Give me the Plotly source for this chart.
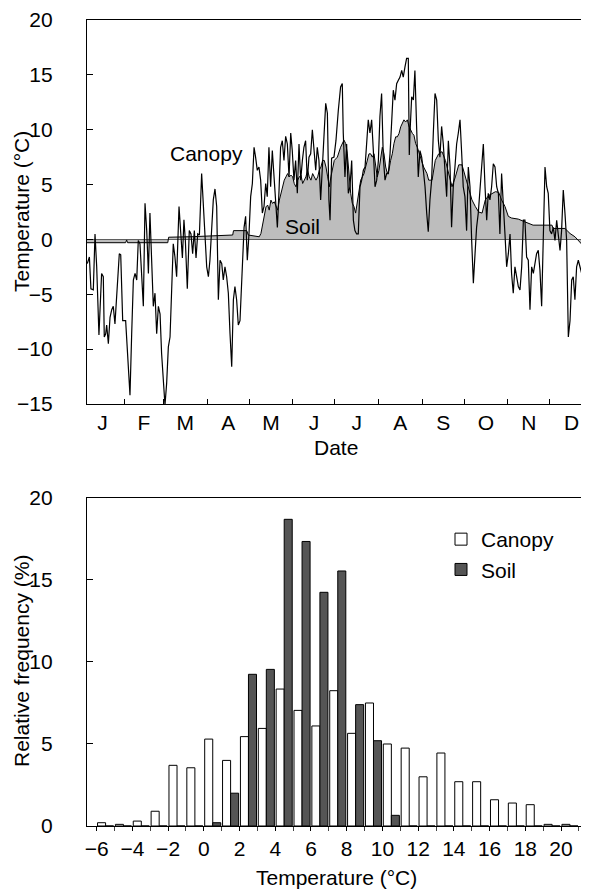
import plotly.graph_objects as go

# ---------------- Top panel: daily temperatures ----------------
# [day of year, temperature °C]
canopy_points = [
    [4.7, -2.2], [6.2, -1.6], [7.3, -4.5], [9.0, -4.6], [10.2, 0.5], [11.4, -2.5], [13.0, -8.7],
    [14.9, -3.1], [16.1, -3.4], [16.8, -8.9], [17.8, -8.6], [18.5, -7.8], [19.7, -9.5], [20.9, -7.1],
    [22.1, -6.4], [23.2, -6.1], [24.4, -7.7], [25.6, -5.5], [27.5, -1.3], [28.5, -1.4], [29.9, -7.4],
    [32.0, -7.4], [33.9, -11.6], [35.1, -14.2], [36.3, -8.6], [37.5, -3.7], [38.7, -3.1], [39.9, -3.7],
    [41.0, -0.1], [42.2, -0.4], [44.6, -6.1], [45.8, 3.3], [47.0, 0.8], [48.2, -3.1], [49.3, 2.4],
    [50.5, -1.3], [51.7, -6.1], [52.9, -4.9], [54.1, -8.6], [55.3, -6.1], [56.5, -6.8], [57.6, -10.4],
    [58.8, -13.1], [60.0, -15.1], [61.2, -13.1], [62.4, -9.8], [63.6, -8.9], [64.8, -4.9], [65.9, -0.4],
    [67.1, -1.6], [68.3, -3.4], [70.0, 3.0], [71.2, 0.5], [72.4, -1.7], [73.5, 1.8], [74.5, -0.1],
    [75.9, -4.5], [77.3, 0.8], [78.5, 0.5], [79.7, -1.3], [80.9, 0.8], [82.1, -1.7], [83.3, 0.5],
    [84.5, 0.4], [86.1, 6.0], [87.3, 3.0], [88.5, -0.1], [89.7, -2.5], [90.9, -3.4], [92.0, -1.9],
    [94.4, 3.6], [95.6, 4.6], [96.8, 3.0], [98.0, -5.5], [99.2, -1.9], [100.4, -2.2], [101.5, -3.7],
    [102.7, -2.5], [103.9, -3.4], [105.1, -4.9], [106.3, -8.6], [107.5, -11.6], [108.7, -5.5],
    [109.8, -4.3], [111.0, -5.5], [112.2, -7.8], [113.4, -7.4], [115.1, -3.1], [116.3, 1.1],
    [117.4, 2.1], [118.6, -1.9], [119.8, 0.5], [121.0, 3.9], [122.2, 5.1], [123.4, 8.4], [124.5, 7.5],
    [125.7, 6.3], [126.9, 6.6], [128.1, 5.4], [129.3, 2.4], [130.5, 3.0], [131.7, 5.1], [132.8, 3.9],
    [134.0, 8.4], [135.2, 4.8], [136.4, 8.1], [137.6, 6.0], [138.8, 3.3], [140.0, 1.1], [141.2, 4.5],
    [142.3, 8.4], [143.5, 9.0], [144.7, 7.2], [145.9, 9.4], [147.1, 8.7], [148.3, 5.7], [149.5, 9.7],
    [150.6, 8.1], [151.8, 5.4], [153.0, 7.2], [154.2, 4.2], [155.4, 8.7], [156.6, 5.4], [157.8, 7.2],
    [158.9, 8.4], [160.1, 9.0], [161.3, 5.4], [162.5, 7.5], [163.7, 7.8], [164.9, 10.0], [166.1, 8.1],
    [167.3, 6.3], [168.4, 8.4], [169.6, 7.2], [170.8, 3.6], [172.0, 6.6], [173.2, 10.6], [174.4, 12.4],
    [175.6, 11.5], [176.7, 3.6], [177.5, 1.75], [178.6, 7.4], [180.3, 7.5], [181.7, 9.0], [183.4, 11.8],
    [185.0, 13.9], [186.2, 14.2], [186.9, 9.7], [188.1, 5.7], [189.3, 8.7], [190.5, 4.2], [191.7, 4.8],
    [192.9, 7.2], [194.1, 1.75], [195.2, 0.8], [196.4, 0.5], [197.6, 0.5], [198.8, 4.8], [200.0, 5.4],
    [201.2, 6.3], [202.4, 6.6], [203.5, 9.0], [204.7, 10.9], [205.9, 9.7], [207.1, 10.9], [208.3, 8.1],
    [209.5, 4.8], [210.7, 5.4], [211.9, 7.2], [213.0, 11.2], [214.2, 13.3], [215.4, 7.5], [216.6, 5.4],
    [217.8, 6.0], [219.0, 6.0], [220.2, 7.8], [221.3, 10.3], [222.5, 13.6], [223.7, 12.7], [224.9, 14.2],
    [226.1, 14.5], [227.3, 14.8], [228.5, 15.4], [229.6, 14.8], [230.8, 15.7], [232.0, 16.5],
    [233.2, 16.5], [233.9, 7.7], [234.4, 9.7], [235.6, 13.0], [236.8, 12.7], [237.9, 15.4],
    [239.1, 10.3], [240.3, 5.7], [241.5, 8.1], [242.7, 7.5], [243.9, 6.3], [245.1, 4.8], [246.3, 2.4],
    [247.4, 0.7], [248.6, 3.6], [249.8, 5.4], [251.0, 9.7], [252.2, 13.3], [253.4, 12.7], [254.6, 9.0],
    [255.7, 7.5], [256.9, 10.3], [258.1, 8.7], [259.3, 6.0], [260.5, 3.9], [261.7, 9.0], [262.9, 6.6],
    [264.0, 1.1], [265.2, 4.8], [266.4, 6.6], [267.6, 8.7], [268.8, 9.7], [270.0, 10.9], [271.2, 7.8],
    [272.3, 4.8], [273.5, 3.9], [274.7, 0.8], [275.9, 6.6], [277.1, 4.8], [278.3, -0.1], [279.5, -4.0],
    [280.7, -1.3], [281.8, 1.1], [283.0, 2.4], [284.2, 4.8], [285.4, 7.2], [286.6, 8.7], [287.8, 4.8],
    [289.0, 1.75], [290.1, 4.2], [291.3, 3.6], [292.5, 4.8], [293.7, 6.9], [294.9, 6.6], [296.1, 4.8],
    [297.3, 4.2], [298.4, 0.5], [299.6, 6.0], [300.8, 3.6], [302.0, 0.5], [303.2, -2.5], [304.4, -1.3],
    [305.6, 0.5], [306.7, -3.1], [307.9, -4.9], [309.1, -2.5], [310.3, -3.4], [311.5, -4.3],
    [312.7, -4.6], [313.9, -2.5], [315.1, 1.75], [316.2, 1.75], [317.4, -1.6], [318.6, -1.9],
    [319.8, -6.4], [321.0, -2.5], [322.2, -3.1], [323.4, -1.9], [324.5, -1.3], [325.7, -1.0],
    [326.9, -2.8], [328.1, -6.1], [329.3, 0.8], [330.5, 6.6], [331.7, 4.8], [332.8, 4.2], [334.0, 0.8],
    [335.2, 0.5], [336.4, 1.1], [337.6, -0.1], [338.8, 1.75], [340.0, 0.5], [341.2, -1.0], [342.3, 0.8],
    [343.5, 4.5], [344.7, 2.4], [345.9, -0.1], [347.1, -8.9], [348.3, -7.4], [349.5, -3.7],
    [350.6, -3.4], [351.8, -5.5], [353.0, -2.5], [354.2, -1.9], [355.4, -2.5], [356.6, -3.1],
    [357.8, -4.6], [358.9, -6.8], [360.1, -9.2], [361.3, -11.6],
]

soil_points = [
    [4.5, -0.3], [32.0, -0.3], [32.7, -0.05], [33.4, -0.3], [62.0, -0.3], [62.6, 0.2], [80.0, 0.25],
    [95.0, 0.35], [108.2, 0.4], [108.8, 0.8], [118.2, 0.8], [119.3, 0.4], [125.3, 0.25], [127.1, 0.24],
    [128.3, 0.54], [129.5, 1.45], [130.7, 2.37], [131.9, 2.97], [133.1, 3.13], [134.2, 2.67],
    [135.4, 3.58], [136.6, 3.28], [137.8, 3.43], [139.0, 2.97], [140.2, 2.67], [141.4, 3.58],
    [142.6, 4.19], [143.7, 4.8], [144.9, 5.4], [146.1, 5.7], [147.3, 6.0], [148.5, 5.7], [149.7, 5.86],
    [150.9, 5.7], [152.0, 5.1], [153.2, 4.8], [154.4, 5.4], [155.6, 5.7], [156.8, 5.86], [158.0, 5.1],
    [159.2, 5.4], [160.3, 5.7], [161.5, 6.3], [162.7, 5.7], [163.9, 5.4], [165.1, 6.0], [166.3, 5.7],
    [167.5, 5.4], [168.7, 5.7], [169.8, 6.3], [171.0, 6.6], [172.2, 7.2], [173.4, 7.2], [174.6, 6.6],
    [175.8, 5.7], [177.0, 4.8], [178.1, 5.7], [179.3, 6.6], [180.5, 7.2], [182.7, 7.5], [185.0, 8.4],
    [187.4, 9.05], [188.6, 8.75], [189.8, 7.8], [191.0, 5.7], [192.2, 4.2], [193.3, 3.3], [194.5, 3.0],
    [195.7, 2.4], [196.9, 3.3], [198.1, 4.2], [199.3, 5.4], [200.5, 5.7], [201.7, 6.0], [202.8, 6.6],
    [204.0, 7.2], [205.2, 7.8], [206.4, 7.8], [207.6, 7.5], [208.8, 7.8], [210.0, 6.9], [211.1, 5.7],
    [212.3, 6.3], [213.5, 7.2], [214.7, 8.4], [215.9, 7.8], [217.1, 6.6], [218.3, 6.0], [219.4, 6.3],
    [220.6, 7.2], [221.8, 7.8], [223.0, 8.75], [224.2, 9.35], [225.4, 9.35], [226.6, 9.66],
    [227.8, 10.27], [228.9, 10.57], [230.1, 10.9], [231.3, 10.7], [232.5, 10.9], [233.7, 10.3],
    [234.9, 9.96], [236.1, 9.66], [237.2, 9.5], [238.4, 8.75], [239.6, 8.4], [241.8, 7.5], [244.1, 6.6],
    [246.5, 6.0], [247.7, 5.4], [250.1, 5.4], [251.3, 6.6], [252.4, 7.2], [254.8, 7.8], [257.2, 8.0],
    [259.6, 7.2], [261.9, 6.0], [264.3, 4.8], [266.7, 5.7], [269.1, 6.8], [271.4, 6.8], [273.8, 5.7],
    [276.2, 4.8], [278.5, 3.6], [280.9, 3.0], [283.3, 2.5], [285.7, 2.4], [288.0, 3.6], [290.4, 4.0],
    [292.8, 4.2], [295.2, 4.35], [297.5, 4.3], [299.6, 3.6], [302.0, 3.0], [304.4, 2.1], [306.7, 1.95],
    [311.5, 1.85], [316.2, 1.6], [319.8, 1.45], [322.0, 1.3], [335.5, 1.3], [336.2, 1.0], [344.7, 1.0],
    [345.9, 0.85], [348.3, 0.54], [351.8, 0.24], [354.2, -0.06], [356.6, -0.43], [358.9, -0.52],
    [361.3, -0.52],
]

month_labels = ["J", "F", "M", "A", "M", "J", "J", "A", "S", "O", "N", "D"]
month_mid_days = [15.5, 45, 74.5, 105, 135.5, 166, 196.5, 227.5, 258, 288.5, 319, 349.5]
month_start_days = [31, 59, 90, 120, 151, 181, 212, 243, 273, 304, 334]

# ---------------- Bottom panel: frequency histogram ----------------
bin_centers = [-5.5, -4.5, -3.5, -2.5, -1.5, -0.5, 0.5, 1.5, 2.5, 3.5, 4.5, 5.5, 6.5, 7.5,
               8.5, 9.5, 10.5, 11.5, 12.5, 13.5, 14.5, 15.5, 16.5, 17.5, 18.5, 19.5, 20.5]
canopy_freq = [0.2, 0.1, 0.3, 0.9, 3.7, 3.55, 5.3, 4.0, 5.45, 5.95, 8.35, 7.05, 6.1, 8.25,
               5.65, 7.5, 5.0, 4.75, 3.0, 4.45, 2.7, 2.7, 1.6, 1.4, 1.3, 0.1, 0.1]
soil_freq = [0, 0, 0, 0, 0, 0, 0.2, 2.0, 9.25, 9.55, 18.7, 17.35, 14.25, 15.55,
             7.4, 5.2, 0.65, 0, 0, 0, 0, 0, 0, 0, 0, 0, 0]

FONT = "Liberation Sans, Arial, Helvetica, sans-serif"
FS = 21
fig = go.Figure()

fig.add_trace(go.Scatter(
    x=[p[0] for p in soil_points], y=[p[1] for p in soil_points],
    mode="lines", fill="tozeroy", fillcolor="#bdbdbd",
    line=dict(color="black", width=1), showlegend=False, xaxis="x", yaxis="y"))
fig.add_trace(go.Scatter(
    x=[p[0] for p in canopy_points], y=[p[1] for p in canopy_points],
    mode="lines", line=dict(color="black", width=1.2), showlegend=False,
    xaxis="x", yaxis="y"))

fig.add_trace(go.Bar(
    x=bin_centers, y=canopy_freq, name="Canopy",
    marker=dict(color="white", line=dict(color="black", width=1)),
    xaxis="x2", yaxis="y2"))
fig.add_trace(go.Bar(
    x=bin_centers, y=soil_freq, name="Soil",
    marker=dict(color="#555555", line=dict(color="black", width=1)),
    xaxis="x2", yaxis="y2"))

axis_common = dict(showline=True, linecolor="black", linewidth=1.3, showgrid=False,
                   tickcolor="black", tickfont=dict(size=FS, family=FONT, color="black"))

# The page places the figure 8 px from the top-left corner, so the figure is
# 8 px smaller than the window in each direction.
fig.update_layout(
    width=581, height=881,
    margin=dict(l=79, r=1, t=12, b=63, autoexpand=False),
    paper_bgcolor="white", plot_bgcolor="white",
    font=dict(family=FONT, size=FS, color="black"),
    barmode="group", bargap=0.1, bargroupgap=0,
    xaxis=dict(domain=[0, 1], anchor="y", range=[4.5, 361.1],
               tickvals=month_mid_days, ticktext=month_labels, ticks="",
               minor=dict(tickvals=month_start_days, ticks="inside", ticklen=5,
                          tickcolor="black", tickwidth=1),
               mirror=True, zeroline=False, **axis_common),
    yaxis=dict(domain=[0.5236, 1], anchor="x", range=[-15, 20],
               tickvals=[-15, -10, -5, 0, 5, 10, 15, 20], ticks="inside", ticklen=6,
               ticklabelstandoff=29,
               zeroline=True, zerolinecolor="black", zerolinewidth=1, **axis_common),
    xaxis2=dict(domain=[0, 1], anchor="y2", range=[-6.54, 21.51],
                tickvals=[-6, -4, -2, 0, 2, 4, 6, 8, 10, 12, 14, 16, 18, 20],
                ticks="outside", ticklen=4, tickwidth=1,
                minor=dict(dtick=1, tick0=0, ticks="outside", ticklen=4, tickcolor="#444444"),
                mirror=True, zeroline=False, **axis_common),
    yaxis2=dict(domain=[0, 0.40695], anchor="x2", range=[0, 20],
                tickvals=[0, 5, 10, 15, 20], ticks="inside", ticklen=6,
                ticklabelstandoff=29,
                mirror=True, zeroline=False, **axis_common),
    legend=dict(x=(441 - 87) / 501, y=(826 - 519) / 806,
                xanchor="left", yanchor="top", bgcolor="rgba(0,0,0,0)",
                font=dict(size=FS, family=FONT)),
    annotations=[
        dict(text="Canopy", x=89.2, y=7.8, xref="x", yref="y", showarrow=False,
             font=dict(size=FS, family=FONT)),
        dict(text="Soil", x=157.9, y=1.17, xref="x", yref="y", showarrow=False,
             font=dict(size=FS, family=FONT)),
        dict(text="Temperature (°C)", x=(21 - 87) / 501, y=(826 - 212) / 806,
             xref="paper", yref="paper", textangle=-90, showarrow=False,
             xanchor="center", yanchor="middle", font=dict(size=FS, family=FONT)),
        dict(text="Date", x=(336 - 87) / 501, y=(826 - 447) / 806,
             xref="paper", yref="paper", showarrow=False,
             xanchor="center", yanchor="middle", font=dict(size=FS, family=FONT)),
        dict(text="Relative frequency (%)", x=(21 - 87) / 501, y=(826 - 661) / 806,
             xref="paper", yref="paper", textangle=-90, showarrow=False,
             xanchor="center", yanchor="middle", font=dict(size=FS, family=FONT)),
        dict(text="Temperature (°C)", x=(336 - 87) / 501, y=(826 - 877) / 806,
             xref="paper", yref="paper", showarrow=False,
             xanchor="center", yanchor="middle", font=dict(size=FS, family=FONT)),
    ],
)

fig.write_html("out.html")
